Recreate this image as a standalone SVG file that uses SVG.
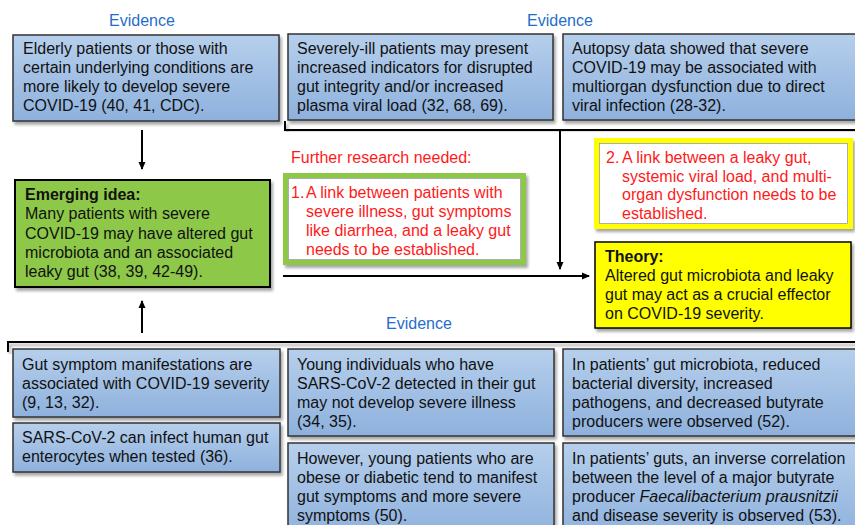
<svg xmlns="http://www.w3.org/2000/svg" width="855" height="525" viewBox="0 0 855 525">
<style>
text{font-family:"Liberation Sans",Arial,sans-serif;font-size:16px;fill:#111}
.ev{fill:#1f6ecb}
.red{fill:#ff1a1a}
.b{font-weight:bold}
.blue{fill:url(#bg);stroke:#333;stroke-width:1.5;filter:url(#sh)}
.ln{stroke:#000;stroke-width:2;fill:none}
</style>
<defs>
<linearGradient id="bg" x1="0" y1="0" x2="0" y2="1">
<stop offset="0" stop-color="#b6cfec"/>
<stop offset="1" stop-color="#8eb1dd"/>
</linearGradient>
<filter id="sh" x="-10%" y="-10%" width="120%" height="130%">
<feDropShadow dx="2" dy="3" stdDeviation="1.5" flood-color="#000" flood-opacity="0.35"/>
</filter>
<marker id="ah" markerWidth="8" markerHeight="8" refX="7" refY="4" orient="auto" markerUnits="userSpaceOnUse">
<path d="M0,0.5 L8,4 L0,7.5 Z" fill="#000"/>
</marker>
</defs>

<text class="ev" x="142" y="26" text-anchor="middle">Evidence</text>
<text class="ev" x="560" y="26" text-anchor="middle">Evidence</text>
<text class="ev" x="419" y="329" text-anchor="middle">Evidence</text>

<g id="connectors">
<path class="ln" d="M285,121 V130 H857" filter="url(#sh)"/>
<path class="ln" d="M560,130 V269" marker-end="url(#ah)"/>
<path class="ln" d="M283,276 H589" marker-end="url(#ah)"/>
<path class="ln" d="M142,130 V169" marker-end="url(#ah)"/>
<path class="ln" d="M142,333 V301" marker-end="url(#ah)"/>
<path class="ln" d="M8,352 V342 H857" filter="url(#sh)"/>
</g>

<g id="ev-elderly">
<rect class="blue" x="13" y="35" width="266" height="86"/>
<text x="23" y="54">Elderly patients or those with</text>
<text x="23" y="73">certain underlying conditions are</text>
<text x="23" y="92">more likely to develop severe</text>
<text x="23" y="111">COVID-19 (40, 41, CDC).</text>
</g>

<g id="ev-severely">
<rect class="blue" x="288" y="34" width="265" height="86"/>
<text x="297" y="54">Severely-ill patients may present</text>
<text x="297" y="73">increased indicators for disrupted</text>
<text x="297" y="92">gut integrity and/or increased</text>
<text x="297" y="111">plasma viral load (32, 68, 69).</text>
</g>

<g id="ev-autopsy">
<rect class="blue" x="563" y="34" width="300" height="86"/>
<text x="572" y="54">Autopsy data showed that severe</text>
<text x="572" y="73">COVID-19 may be associated with</text>
<text x="572" y="92">multiorgan dysfunction due to direct</text>
<text x="572" y="111">viral infection (28-32).</text>
</g>

<g id="emerging">
<rect x="15" y="180" width="255" height="107" fill="#8dc84a" stroke="#000" stroke-width="2" filter="url(#sh)"/>
<text class="b" x="25" y="200">Emerging idea:</text>
<text x="25" y="219">Many patients with severe</text>
<text x="25" y="239">COVID-19 may have altered gut</text>
<text x="25" y="258">microbiota and an associated</text>
<text x="25" y="277">leaky gut (38, 39, 42-49).</text>
</g>

<text class="red" x="291" y="163">Further research needed:</text>

<g id="research-1">
<rect x="285.5" y="175.5" width="238" height="87" fill="#fff" stroke="#8dc84a" stroke-width="5" filter="url(#sh)"/>
<rect x="288.5" y="178.5" width="232" height="81" fill="none" stroke="#999" stroke-width="0.8"/>
<text class="red" x="291" y="198">1.</text>
<text class="red" x="306" y="198">A link between patients with</text>
<text class="red" x="306" y="217">severe illness, gut symptoms</text>
<text class="red" x="306" y="236">like diarrhea, and a leaky gut</text>
<text class="red" x="306" y="255">needs to be established.</text>
</g>

<g id="research-2">
<rect x="596.5" y="140.5" width="254" height="86" fill="#fff" stroke="#ffff00" stroke-width="5" filter="url(#sh)"/>
<rect x="599.5" y="143.5" width="248" height="80" fill="none" stroke="#999" stroke-width="0.8"/>
<text class="red" x="606" y="163">2.</text>
<text class="red" x="622" y="163">A link between a leaky gut,</text>
<text class="red" x="622" y="182">systemic viral load, and multi-</text>
<text class="red" x="622" y="200">organ dysfunction needs to be</text>
<text class="red" x="622" y="219">established.</text>
</g>

<g id="theory">
<rect x="595" y="242" width="256" height="86" fill="#ffff00" stroke="#000" stroke-width="1.5" filter="url(#sh)"/>
<text class="b" x="605" y="262">Theory:</text>
<text x="605" y="281">Altered gut microbiota and leaky</text>
<text x="605" y="300">gut may act as a crucial effector</text>
<text x="605" y="319">on COVID-19 severity.</text>
</g>

<g id="ev-gut-symptom">
<rect class="blue" x="13" y="349" width="267" height="68"/>
<text x="22" y="370">Gut symptom manifestations are</text>
<text x="22" y="389">associated with COVID-19 severity</text>
<text x="22" y="408">(9, 13, 32).</text>
</g>

<g id="ev-enterocytes">
<rect class="blue" x="13" y="423" width="267" height="49"/>
<text x="22" y="443">SARS-CoV-2 can infect human gut</text>
<text x="22" y="462">enterocytes when tested (36).</text>
</g>

<g id="ev-young">
<rect class="blue" x="288" y="349" width="266" height="87"/>
<text x="297" y="370">Young individuals who have</text>
<text x="297" y="389">SARS-CoV-2 detected in their gut</text>
<text x="297" y="408">may not develop severe illness</text>
<text x="297" y="427">(34, 35).</text>
</g>

<g id="ev-obese">
<rect class="blue" x="288" y="443" width="266" height="95"/>
<text x="297" y="464">However, young patients who are</text>
<text x="297" y="483">obese or diabetic tend to manifest</text>
<text x="297" y="502">gut symptoms and more severe</text>
<text x="297" y="521">symptoms (50).</text>
</g>

<g id="ev-microbiota">
<rect class="blue" x="563" y="349" width="300" height="87"/>
<text x="572" y="370">In patients’ gut microbiota, reduced</text>
<text x="572" y="389">bacterial diversity, increased</text>
<text x="572" y="408">pathogens, and decreased butyrate</text>
<text x="572" y="427">producers were observed (52).</text>
</g>

<g id="ev-faecali">
<rect class="blue" x="563" y="443" width="300" height="95"/>
<text x="572" y="464">In patients’ guts, an inverse correlation</text>
<text x="572" y="483">between the level of a major butyrate</text>
<text x="572" y="502">producer <tspan font-style="italic">Faecalibacterium prausnitzii</tspan></text>
<text x="572" y="521">and disease severity is observed (53).</text>
</g>
</svg>
